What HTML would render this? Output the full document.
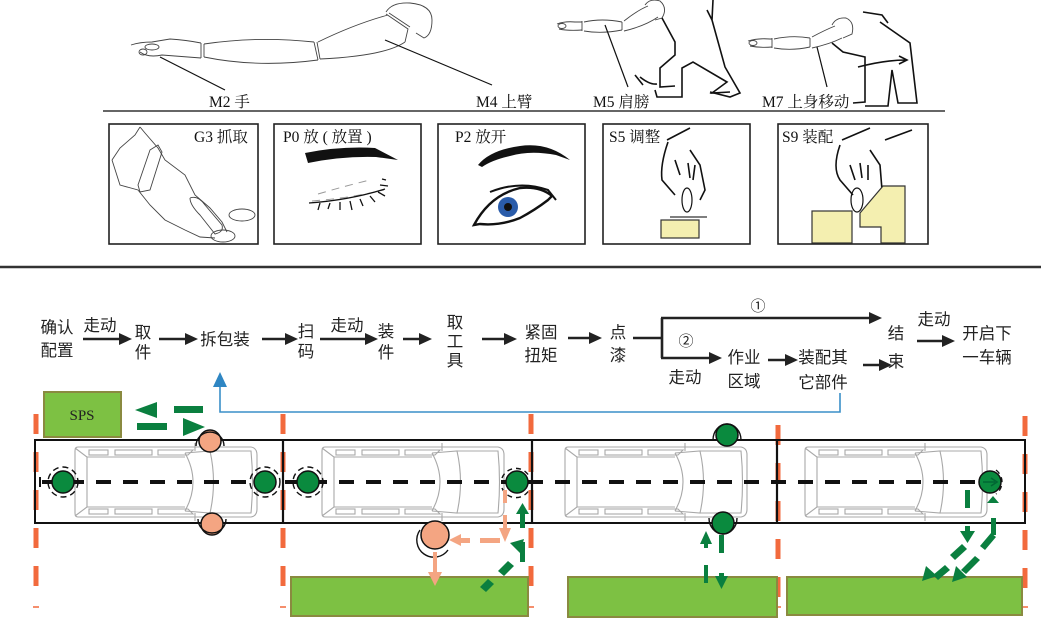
<!DOCTYPE html>
<html><head><meta charset="utf-8"><style>
html,body{margin:0;padding:0;background:#fff;}
svg{display:block;}
.fl{font-family:"Liberation Sans","Noto Sans CJK SC",sans-serif;font-size:16.5px;fill:#222;text-anchor:middle;}
.lb{font-family:"Liberation Serif","Noto Serif CJK SC",serif;font-size:15.5px;fill:#111;}
.th{fill:none;stroke:#444;stroke-width:0.9;}
.tk{fill:none;stroke:#111;stroke-width:1.6;}
.car{fill:none;stroke:#a8a8a8;stroke-width:1.1;}
.ar{stroke:#222;stroke-width:2.6;fill:none;}
.ah{fill:#222;}
.gd{fill:#0a7f3f;}
.od{stroke:#f26a3d;stroke-width:5;stroke-dasharray:20 18;fill:none;}
</style></head><body>
<svg width="1041" height="627" viewBox="0 0 1041 627" xmlns="http://www.w3.org/2000/svg">
<defs>
<g id="car">
  <path class="car" d="M3,0 L176,0 Q182,1 182,8 L182,62 Q182,69 176,70 L3,70 Q0,70 0,66 L0,4 Q0,0 3,0 Z"/>
  <path class="car" d="M0,1 L12,10 L12,60 L0,69 M12,10 L110,10 M12,60 L110,60"/>
  <path class="car" d="M110,6 Q126,35 110,64 M110,6 L135,4 Q142,35 135,66 L110,64"/>
  <path class="car" d="M135,4 L176,4 Q179,35 176,66 L135,66"/>
  <rect class="car" x="14" y="3" width="19" height="5"/><rect class="car" x="40" y="3" width="37" height="5"/><path class="car" d="M83,3 L118,3 L113,8 L83,8 Z"/>
  <rect class="car" x="14" y="62" width="19" height="5"/><rect class="car" x="40" y="62" width="37" height="5"/><path class="car" d="M83,62 L113,62 L118,67 L83,67 Z"/>
  <path class="car" d="M120,-4 L120,4 M120,66 L120,74"/>
</g>
</defs>
<rect width="1041" height="627" fill="#fff"/>

<!-- ===== Top: arm figures ===== -->
<g class="th">
  <path d="M131,45 Q140,42 152,42 L170,39 Q186,40 201,43"/>
  <path d="M140,52 Q148,58 162,55 L201,58"/>
  <ellipse cx="152" cy="47" rx="7" ry="3"/><ellipse cx="143" cy="52" rx="4" ry="3"/>
  <path d="M201,43 L201,58 M204,44 L204,57"/>
  <path d="M204,44 Q258,36 314,42 M204,57 Q258,68 318,60"/>
  <path d="M314,42 L318,60 M317,42 L320,59"/>
  <path d="M318,42 Q355,24 388,15 M320,59 Q385,56 405,42"/>
  <path d="M386,14 L408,29 L405,42 M389,13 L410,27"/>
  <path d="M386,12 Q392,2 410,3 Q432,5 432,20 Q432,35 424,38 L416,33"/>
</g>
<path d="M160,57 L225,90 M385,40 L492,85" stroke="#111" stroke-width="1.2" fill="none"/>
<text class="lb" x="209" y="107">M2 手</text>
<text class="lb" x="476" y="107">M4 上臂</text>

<!-- M5 figure -->
<g class="th">
  <path d="M557,24 Q565,21 575,22 L582,22 M559,29 Q568,31 582,30"/>
  <ellipse cx="562" cy="26" rx="4" ry="2.5"/>
  <path d="M582,21 L582,31 M584,22 Q602,18 622,22 M584,31 Q602,34 622,30"/>
  <path d="M622,22 L622,30 M624,21 Q638,10 648,6 M624,31 Q645,26 658,17"/>
  <path d="M645,5 Q650,-2 660,1 Q668,8 662,18 L655,20"/>
</g>
<path class="tk" d="M662,18 L675,42 L675,55 L660,68 L660,87 L675,86"/>
<path class="tk" d="M655,90 L657,97 L682,97 L682,68 L693,62 L727,82 L712,93 L730,92"/>
<path class="tk" d="M707,10 L712,20 L713,0 M712,20 L725,67 L740,93 L730,97 L710,92"/>
<path class="tk" d="M635,75 L643,85 M640,77 Q650,85 657,84"/>
<path d="M605,25 L628,87" stroke="#111" stroke-width="1.2"/>
<text class="lb" x="593" y="107">M5 肩膀</text>

<!-- M7 figure -->
<g class="th">
  <path d="M748,41 Q758,38 770,39 L772,39 M750,46 Q760,48 772,47"/>
  <ellipse cx="753" cy="43" rx="4" ry="2.5"/>
  <path d="M772,38 L772,48 M774,39 Q792,35 810,38 M774,48 Q792,51 810,47"/>
  <path d="M810,38 L810,47 M812,37 Q825,30 835,26 M812,48 Q830,44 842,38"/>
  <path d="M832,25 Q836,17 846,18 Q855,22 852,34 L843,38"/>
</g>
<path class="tk" d="M832,43 L843,52 L865,57 L865,102 L853,103 M865,106 L888,106 L892,70 L898,103 L917,103 L910,43 L880,22"/>
<path class="tk" d="M863,12 L882,15 L888,23"/>
<path class="tk" d="M858,67 Q885,60 906,60 M899,56 L907,60 L899,64"/>
<path d="M817,47 L827,87" stroke="#111" stroke-width="1.2"/>
<text class="lb" x="762" y="107">M7 上身移动</text>

<line x1="103" y1="111" x2="945" y2="111" stroke="#333" stroke-width="1.6"/>

<!-- ===== Boxes ===== -->
<g fill="#fff" stroke="#222" stroke-width="1.6">
  <rect x="109" y="124" width="149" height="120"/>
  <rect x="274" y="124" width="147" height="120"/>
  <rect x="438" y="124" width="147" height="120"/>
  <rect x="603" y="124" width="147" height="120"/>
  <rect x="778" y="124" width="150" height="120"/>
</g>
<text class="lb" x="194" y="142">G3 抓取</text>
<text class="lb" x="283" y="142">P0 放 ( 放置 )</text>
<text class="lb" x="455" y="142">P2 放开</text>
<text class="lb" x="609" y="142">S5 调整</text>
<text class="lb" x="782" y="142">S9 装配</text>

<!-- G3 hand -->
<g class="th" stroke="#555">
  <path d="M140,127 L145,133 L158,148 L165,160 L185,175 L195,195 L210,208 L222,222 L227,232"/>
  <path d="M112,160 L120,148 L135,135 L140,127"/>
  <path d="M112,160 L120,185 L138,190 L150,205 L165,220 L185,230 L200,237 L215,238"/>
  <path d="M150,150 L158,145 L162,152 L150,190 L140,192 L138,185 Z"/>
  <path d="M190,198 Q198,195 205,205 L222,225 Q224,232 215,234 L200,215 Q190,205 190,198"/>
  <ellipse cx="242" cy="215" rx="13" ry="6"/><ellipse cx="223" cy="236" rx="12" ry="6"/>
</g>
<!-- P0 closed eye -->
<path d="M305,153 Q340,146 375,148 L398,160 L376,157 Q342,156 308,163 Z" fill="#111"/>
<path d="M312,201 Q350,198 384,190 M318,194 Q345,186 370,180" stroke="#999" stroke-width="1" fill="none" stroke-dasharray="8 6"/>
<path d="M309,203 Q350,200 385,189 M320,203 L318,210 M330,203 L328,209 M340,202 L340,210 M350,201 L352,210 M360,199 L363,206 M370,196 L375,202 M378,192 L385,196 M380,185 L388,186 M382,179 L386,180" stroke="#111" stroke-width="1.3" fill="none"/>
<!-- P2 open eye -->
<path d="M478,165 Q490,150 520,146 Q548,142 570,160 L556,155 Q530,150 510,156 Q492,160 482,167 Z" fill="#111"/>
<path d="M474,225 Q490,195 520,188 Q540,186 552,196 L548,200 Q535,210 520,218 Q500,226 480,224 Z" fill="none" stroke="#111" stroke-width="2.4"/>
<path d="M490,192 Q520,180 548,190 L556,200" stroke="#111" stroke-width="2" fill="none"/>
<circle cx="508" cy="207" r="10" fill="#2a5caa"/><circle cx="508" cy="207" r="4" fill="#111"/>
<!-- S5 -->
<g class="tk" stroke-width="1.2">
  <path d="M667,140 L690,128 M668,142 Q660,165 662,180 L675,195 M690,150 L700,165 L705,190 L700,200 M675,160 L680,175 M688,163 L690,178 M695,165 L693,180"/>
</g>
<ellipse cx="687" cy="200" rx="5" ry="12" fill="none" stroke="#111" stroke-width="1.2"/>
<line x1="670" y1="217" x2="707" y2="217" stroke="#555" stroke-width="1.5"/>
<rect x="661" y="220" width="38" height="18" fill="#f4efb0" stroke="#333" stroke-width="1.2"/>
<!-- S9 -->
<g class="tk" stroke-width="1.2">
  <path d="M842,140 L870,128 M840,145 Q832,168 840,180 L853,195 M870,150 L880,165 L882,190 L875,198 M885,140 L912,130 M850,165 L855,180 M860,163 L862,178 M868,165 L868,180"/>
</g>
<ellipse cx="857" cy="200" rx="6" ry="12" fill="none" stroke="#111" stroke-width="1.2"/>
<rect x="812" y="211" width="40" height="32" fill="#f4efb0" stroke="#333" stroke-width="1.2"/>
<path d="M860,213 L883,186 L905,186 L905,243 L881,243 L881,227 L860,227 Z" fill="#f4efb0" stroke="#333" stroke-width="1.2"/>

<line x1="0" y1="267" x2="1041" y2="267" stroke="#333" stroke-width="2.4"/>

<!-- ===== Flow ===== -->
<g class="fl">
  <text x="57" y="333">确认</text><text x="57" y="356">配置</text>
  <text x="100" y="331">走动</text>
  <text x="143" y="338">取</text><text x="143" y="358">件</text>
  <text x="225" y="345">拆包装</text>
  <text x="306" y="337">扫</text><text x="306" y="357">码</text>
  <text x="347" y="331">走动</text>
  <text x="386" y="337">装</text><text x="386" y="358">件</text>
  <text x="455" y="328">取</text><text x="455" y="347">工</text><text x="455" y="366">具</text>
  <text x="541" y="338">紧固</text><text x="541" y="361">扭矩</text>
  <text x="618" y="338">点</text><text x="618" y="361">漆</text>
  <text x="758" y="311" style="font-size:15px">①</text>
  <text x="686" y="346" style="font-size:15px">②</text>
  <text x="685" y="383">走动</text>
  <text x="744" y="363">作业</text><text x="744" y="387">区域</text>
  <text x="823" y="363">装配其</text><text x="823" y="388">它部件</text>
  <text x="896" y="339">结</text><text x="896" y="367">束</text>
  <text x="934" y="325">走动</text>
  <text x="987" y="339">开启下</text><text x="987" y="363">一车辆</text>
</g>
<g>
  <path class="ar" d="M83,339 H121 M159,339 H187 M262,339 H287 M320,339 H367 M403,339 H421 M482,339 H506 M568,338 H591"/>
  <path class="ar" d="M633,338 H662 M662,318 V358 M661,318 H871 M661,358 H711 M768,360 H787 M863,365 H881 M917,341 H944"/>
  <path class="ah" d="M132,339 l-13,-6 v12 Z M198,339 l-13,-6 v12 Z M298,339 l-13,-6 v12 Z M378,339 l-13,-6 v12 Z M432,339 l-13,-6 v12 Z M517,339 l-13,-6 v12 Z M602,338 l-13,-6 v12 Z"/>
  <path class="ah" d="M882,318 l-13,-6 v12 Z M722,358 l-13,-6 v12 Z M798,360 l-13,-6 v12 Z M892,365 l-13,-6 v12 Z M955,341 l-13,-6 v12 Z"/>
</g>
<path d="M840,393 V412 H220 V384" fill="none" stroke="#3a8fc8" stroke-width="1.6"/>
<path d="M220,372 L213,387 L227,387 Z" fill="#2f86c3"/>

<!-- SPS -->
<rect x="44" y="392" width="77" height="45" fill="#7dc143" stroke="#8a8a40" stroke-width="2"/>
<text x="82" y="420" style="font-family:'Liberation Serif',serif;font-size:15px;fill:#222;text-anchor:middle">SPS</text>
<path class="gd" d="M135,410 L157,402 L157,418 Z M183,418 L205,427 L183,436 Z"/>
<rect class="gd" x="174" y="406" width="29" height="7"/>
<rect class="gd" x="137" y="423" width="30" height="7"/>

<!-- orange dashed verticals -->
<path class="od" d="M36,414 V600 M283,414 V600 M531,414 V600 M778,425 V600 M1025,416 V600"/>
<path d="M33,607 H39 M280,607 H286 M528,607 H534 M775,607 H781 M1022,607 H1028" stroke="#f26a3d" stroke-width="1.5"/>

<!-- bottom green rects -->
<g fill="#7dc143" stroke="#8a8a40" stroke-width="2">
  <rect x="291" y="577" width="237" height="39"/>
  <rect x="568" y="577" width="209" height="40"/>
  <rect x="787" y="577" width="235" height="38"/>
</g>

<!-- lane -->
<rect x="35" y="440" width="990" height="83" fill="none" stroke="#111" stroke-width="2"/>
<path d="M283,440 V523 M532,440 V523 M777,440 V523" stroke="#111" stroke-width="2.2"/>
<use href="#car" x="75" y="447"/>
<use href="#car" x="322" y="447"/>
<use href="#car" x="565" y="447"/>
<use href="#car" x="805" y="447"/>
<line x1="42" y1="482" x2="1000" y2="482" stroke="#111" stroke-width="4" stroke-dasharray="15 12"/>
<path d="M40,477 V487" stroke="#111" stroke-width="2"/>

<!-- people -->
<g stroke="#111" stroke-width="1.5">
  <circle cx="63" cy="482" r="11" fill="#0a8a3e"/>
  <circle cx="265" cy="482" r="11" fill="#0a8a3e"/>
  <circle cx="308" cy="482" r="11" fill="#0a8a3e"/>
  <circle cx="517" cy="482" r="11" fill="#0a8a3e"/>
  <circle cx="727" cy="435" r="11" fill="#0a8a3e"/>
  <circle cx="723" cy="523" r="11" fill="#0a8a3e"/>
  <circle cx="990" cy="482" r="11" fill="#0a8a3e"/>
  <circle cx="210" cy="441" r="11" fill="#f4a582"/>
  <circle cx="212" cy="524" r="11" fill="#f4a582"/>
  <circle cx="435" cy="535" r="14" fill="#f4a582"/>
</g>
<g fill="none" stroke="#111" stroke-width="1.4">
  <circle cx="63" cy="482" r="15" stroke-dasharray="6 4"/>
  <circle cx="265" cy="482" r="15" stroke-dasharray="6 4"/>
  <circle cx="308" cy="482" r="15" stroke-dasharray="6 4"/>
  <path d="M502,478 A15,15 0 0 1 530,478 M502,488 A15,15 0 0 0 530,488" stroke-dasharray="5 4"/>
  <path d="M996,470 A15,15 0 0 1 996,494" stroke-dasharray="5 4"/>
  <path d="M196,446 A14,14 0 0 1 224,446"/>
  <path d="M198,519 A14,14 0 0 0 226,519"/>
  <path d="M420,530 A17,17 0 0 0 448,550"/>
  <path d="M713,440 A14,16 0 0 1 741,440"/>
  <path d="M709,518 A14,16 0 0 0 737,518"/>
</g>
<path d="M983,482 H995 M991,478 L997,482 L991,486" stroke="#063" stroke-width="1.6" fill="none"/>

<!-- orange dashed arrows -->
<g fill="#f4a582">
  <rect x="503" y="490" width="4" height="13"/>
  <rect x="503" y="515" width="4" height="15"/>
  <path d="M499,528 L511,528 L505,542 Z"/>
  <rect x="480" y="538" width="20" height="5"/>
  <rect x="461" y="538" width="9" height="5"/>
  <path d="M449,540 L461,534 L461,546 Z"/>
  <rect x="433" y="552" width="4" height="22"/>
  <path d="M428,572 L442,572 L435,586 Z"/>
</g>

<!-- green dashed arrows -->
<g class="gd">
  <path d="M480,587 L486,592 L494,584 L488,579 Z"/>
  <path d="M498,571 L504,576 L514,566 L508,561 Z"/>
  <path d="M524,539 L520,553 L510,543 Z"/>
  <rect x="520" y="542" width="5" height="20"/>
  <rect x="520" y="512" width="5" height="16"/>
  <path d="M516,514 L529,514 L522.5,503 Z"/>
  <path d="M700,544 L712,544 L706,531 Z"/>
  <rect x="704" y="543" width="4" height="5"/>
  <rect x="704" y="565" width="4" height="18"/>
  <rect x="719" y="535" width="5" height="18"/>
  <rect x="719" y="573" width="5" height="6"/>
  <path d="M715,576 L728,576 L721.5,589 Z"/>
  <rect x="965" y="490" width="5" height="18"/>
  <rect x="965" y="526" width="5" height="8"/>
  <path d="M960,531 L975,531 L967.5,543 Z"/>
  <path d="M962,544 L967,549 L955,560 L950,555 Z"/>
  <path d="M945,565 L950,570 L938,580 L933,575 Z"/>
  <path d="M922,581 L926,566 L937,576 Z"/>
  <rect x="991" y="518" width="5" height="17"/>
  <path d="M991,533 L996,537 L985,550 L980,546 Z"/>
  <path d="M975,556 L980,560 L966,574 L961,570 Z"/>
  <path d="M952,582 L956,566 L967,577 Z"/>
  <path d="M987,503 L999,503 L993,496 Z"/>
</g>
</svg>
</body></html>
